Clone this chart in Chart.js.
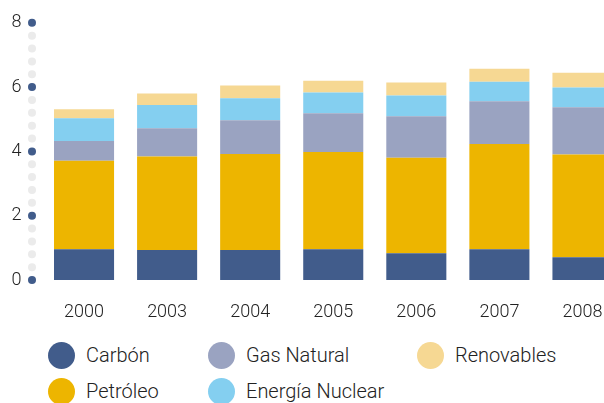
<!DOCTYPE html>
<html>
<head>
<meta charset="utf-8">
<script src="https://cdn.jsdelivr.net/npm/chart.js@4"></script>
<style>
    body { margin: 0; width: 604px; height: 403px; overflow: hidden; background: #fff; font-family: Roboto, "Liberation Sans", sans-serif; }
    #wrap { position: absolute; left: 0; top: -9px; width: 640px; height: 339px; }
    #legend { position: absolute; left: 48px; top: 337px; display: grid; grid-template-rows: 36px 36px; grid-template-columns: 160px 209px auto; grid-auto-flow: column; }
    .item { display: flex; align-items: center; font-size: 20px; font-weight: 300; color: #222; }
    .dot { width: 27px; height: 27px; border-radius: 50%; margin-right: 11px; }
</style>
</head>
<body>
<div id="wrap"><canvas id="chart" width="640" height="339"></canvas></div>
<div id="legend"></div>
<script>
const years = ['2000', '2003', '2004', '2005', '2006', '2007', '2008'];
const names = ['Carbón', 'Petróleo', 'Gas Natural', 'Energía Nuclear', 'Renovables'];
const colors = ['#415c8b', '#edb500', '#9aa3c1', '#84cff0', '#f6d893'];

const carbon = [0.96, 0.93, 0.93, 0.96, 0.83, 0.96, 0.71];
const petroleo = [2.75, 2.91, 2.99, 3.02, 2.97, 3.27, 3.19];
const gas = [0.61, 0.88, 1.05, 1.21, 1.29, 1.33, 1.47];
const nuclear = [0.71, 0.72, 0.68, 0.64, 0.65, 0.61, 0.62];
const renovables = [0.28, 0.36, 0.40, 0.37, 0.40, 0.40, 0.46];

const series = [carbon, petroleo, gas, nuclear, renovables];

// dotted y axis: blue dots on labelled ticks, grey in between
const axisDots = {
    id: 'axisDots',
    afterDraw(chart) {
        const ctx = chart.ctx;
        const y = chart.scales.y;
        const x = chart.chartArea.left - 10.5;
        y.ticks.forEach(t => {
            const major = Math.abs(t.value / 2 - Math.round(t.value / 2)) < 1e-6;
            ctx.beginPath();
            ctx.arc(x, y.getPixelForValue(t.value), 4, 0, Math.PI * 2);
            ctx.fillStyle = major ? '#415c8b' : '#ebebeb';
            ctx.fill();
        });
    }
};

new Chart(document.getElementById('chart'), {
    type: 'bar',
    data: {
        labels: years,
        datasets: series.map((d, i) => ({
            label: names[i],
            data: d,
            backgroundColor: colors[i],
            borderWidth: 0,
            barPercentage: 0.723,
            categoryPercentage: 1
        }))
    },
    options: {
        responsive: false,
        animation: false,
        layout: { padding: { top: 12, left: 0, right: 16 } },
        plugins: { legend: { display: false }, tooltip: { enabled: false } },
        scales: {
            x: {
                stacked: true,
                grid: { display: false },
                border: { display: false },
                afterFit(scale) { scale.height = 50; },
                ticks: { color: '#222', font: { family: 'Roboto', size: 18, weight: 300 }, padding: 14, maxRotation: 0 }
            },
            y: {
                stacked: true,
                min: 0,
                max: 8,
                grid: { display: false, drawTicks: false },
                border: { display: false },
                afterFit(scale) { scale.width = 42.5; },
                ticks: {
                    stepSize: 0.4,
                    autoSkip: false,
                    padding: 21,
                    color: '#222',
                    font: { family: 'Roboto', size: 18, weight: 300 },
                    callback: v => Math.abs(v / 2 - Math.round(v / 2)) < 1e-6 ? Math.round(v) : ''
                }
            }
        }
    },
    plugins: [axisDots]
});

const legend = document.getElementById('legend');
names.forEach((n, i) => {
    const item = document.createElement('div');
    item.className = 'item';
    const dot = document.createElement('span');
    dot.className = 'dot';
    dot.style.background = colors[i];
    item.appendChild(dot);
    item.appendChild(document.createTextNode(n));
    legend.appendChild(item);
});
</script>
</body>
</html>
